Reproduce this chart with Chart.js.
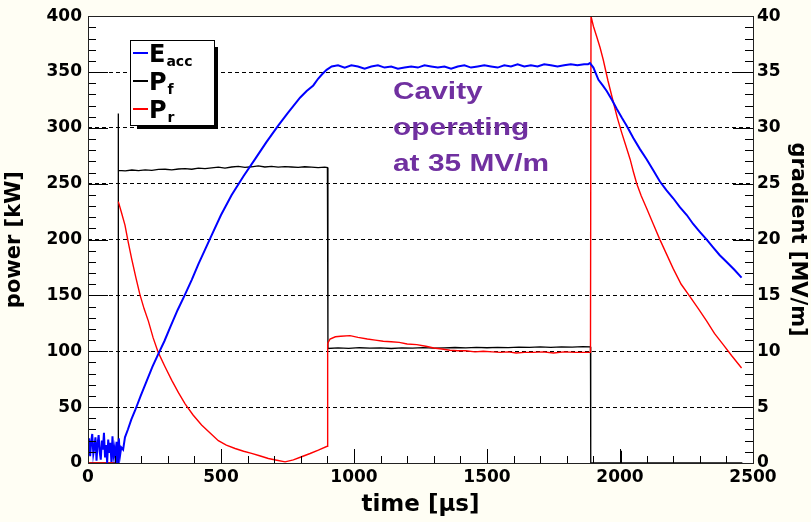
<!DOCTYPE html>
<html>
<head>
<meta charset="utf-8">
<script src="https://cdn.jsdelivr.net/npm/chart.js@4"></script>
<style>
  html, body { margin: 0; padding: 0; background: #fffef4; }
  canvas { display: block; }
</style>
</head>
<body>
<canvas id="chart" width="811" height="522"></canvas>
<script>
// E_acc gradient [MV/m] vs time [us]
const eaccTime = [0,4,8,12,16,20,24,28,32,36,40,44,48,52,56,60,64,68,72,76,80,84,88,92,96,100,104,108,112,116,120,
  125,132,139,150,163,177,198,220,242,264,287,310,337,365,390,415,440,465,500,540,585,628,670,715,750,797,822,847,865,880,897,916,
  940,965,990,1015,1040,1065,1090,1115,1140,1165,1190,1215,1240,1265,1290,1315,1340,1365,1390,1415,1440,1465,1490,1515,1540,1565,1590,1615,1640,1665,1690,1715,1740,1765,1790,1815,1840,1865,1880,1887,
  1900,1919,1935,1950,1970,1988,2007,2025,2050,2075,2100,2125,2150,2175,2200,2225,2251,2275,2300,2326,2350,2375,2401,2430,2457];
const eaccGrad = [1.5,2.2,0.6,1.9,2.6,0.8,1.4,2.3,0.2,1.7,2.5,1.0,0.3,2.0,1.2,2.7,0.5,1.6,0.0,2.1,0.9,1.8,0.1,2.4,0.7,1.3,0.0,1.9,0.0,2.2,0.6,
  1.4,1.2,2.3,3.0,3.9,4.7,6.0,7.3,8.6,9.75,10.9,12.2,13.7,15.1,16.4,17.8,19.1,20.4,22.2,24.0,25.7,27.2,28.7,30.2,31.3,32.7,33.3,33.8,34.4,34.8,35.2,35.5,
  35.6,35.4,35.6,35.5,35.3,35.5,35.6,35.4,35.5,35.3,35.4,35.5,35.4,35.6,35.5,35.4,35.5,35.3,35.5,35.6,35.4,35.5,35.6,35.5,35.4,35.6,35.5,35.7,35.5,35.6,35.5,35.7,35.6,35.5,35.6,35.7,35.6,35.7,35.7,35.8,
  35.4,34.3,33.8,33.3,32.5,31.7,30.9,30.2,29.1,28.1,27.2,26.2,25.2,24.4,23.7,22.9,22.2,21.4,20.7,20.0,19.3,18.6,18.0,17.3,16.6];

// forward power P_f [kW]
const pfTime = [0,113,113,
  115,140,165,190,215,240,265,290,315,340,365,390,415,440,465,490,515,540,565,590,615,640,665,690,715,740,765,790,815,840,865,890,900,
  902,940,980,1020,1060,1100,1140,1180,1220,1260,1300,1340,1380,1420,1460,1500,1540,1580,1620,1660,1700,1740,1780,1820,1860,1889,
  1890,1950,2003,2004,2005,2100,2200,2300,2400,2460];
const pfPower = [0,0,313,
  262.0,261.5,262.3,261.8,262.5,262.0,262.8,263.0,262.4,263.2,263.5,263.0,264.0,263.6,264.2,264.8,264.0,265.0,265.5,264.6,265.2,266.0,265.0,265.6,264.8,265.3,265.0,264.6,265.2,264.8,264.5,264.9,264.5,
  102.5,103.0,102.6,103.2,102.8,103.0,102.5,103.1,102.9,103.3,102.8,103.0,103.4,103.1,103.5,103.2,103.6,103.3,103.8,103.5,103.9,103.6,104.0,103.7,104.1,103.9,
  0,0,0,11,0,0,0,0,0,0];

// reflected power P_r [kW] (null = no trace while the pulse switches on)
const prTime = [0,20,40,60,80,100,112,113,114,126,139,151,164,180,195,211,227,245,264,290,315,340,365,395,427,458,490,520,553,585,615,645,678,710,741,772,803,835,866,899,
  901,910,930,950,985,1015,1050,1080,1110,1140,1170,1200,1236,1270,1300,1330,1361,1390,1420,1455,1486,1520,1550,1580,1610,1640,1674,1710,1750,1790,1830,1875,1889,
  1891,1900,1912,1925,1937,1955,1975,1990,2006,2022,2038,2050,2063,2080,2100,2125,2150,2175,2200,2230,2263,2295,2326,2355,2388,2420,2457];
const prPower = [0,0,0,0,0,0,0,null,234,224,213,198,183,166,151,138,127,112,99,86,74,63,53,43,34,27,20,16,13,10.5,8.6,6.5,4,2.5,1,2.8,5.6,8.5,11.5,15,
  107,111,113,113.5,114,112.5,111,110,109,108.5,108,106.5,106,104.5,103,102,101,100.5,100.5,99.5,100,99.5,99,99.5,98.5,99,99,99.5,98.5,99.5,99,99,99,
  400,391,382,372,361,342,323,309,296,284,272,261,250,239,228,214,200,187,174,160,149,138,127,116,106,96,85];

const legendMain = ['E', 'P', 'P'];
const legendSub = ['acc', 'f', 'r'];
const noteLines = ['Cavity', 'operating', 'at 35 MV/m'];

const toPoints = (xs, ys) => xs.map((x, i) => ({ x, y: ys[i] }));

const FONT = 'DejaVu Sans';
const tickFont = { family: FONT, size: 17, weight: 'bold' };
const titleFont = { family: FONT, size: 21, weight: 'bold', lineHeight: 1.2 };

// cream page, white frame
const background = {
  id: 'background',
  beforeDraw(chart) {
    const { ctx, chartArea: a } = chart;
    ctx.save();
    ctx.fillStyle = '#fffef4';
    ctx.fillRect(0, 0, chart.width, chart.height);
    ctx.fillStyle = '#ffffff';
    ctx.fillRect(a.left, a.top, a.right - a.left, a.bottom - a.top);
    ctx.restore();
  }
};

// ROOT-like frame, inward ticks, legend box and note
const decorations = {
  id: 'decorations',
  afterDraw(chart) {
    const { ctx, chartArea: a } = chart;
    const sx = chart.scales.x, sy = chart.scales.y, sy2 = chart.scales.y2;
    ctx.save();
    ctx.strokeStyle = '#000';
    ctx.lineWidth = 1;
    const line = (x1, y1, x2, y2) => { ctx.beginPath(); ctx.moveTo(x1, y1); ctx.lineTo(x2, y2); ctx.stroke(); };

    for (let v = 0; v <= 2500; v += 100) {
      const px = Math.round(sx.getPixelForValue(v)) + 0.5;
      line(px, a.bottom, px, a.bottom - (v % 500 === 0 ? 14 : 7));
    }
    for (let v = 0; v <= 400; v += 10) {
      const py = Math.round(sy.getPixelForValue(v)) + 0.5;
      line(a.left, py, a.left + (v % 50 === 0 ? 20 : 8), py);
    }
    for (let v = 0; v <= 40; v += 1) {
      const py = Math.round(sy2.getPixelForValue(v)) + 0.5;
      line(a.right, py, a.right - (v % 5 === 0 ? 20 : 8), py);
    }
    ctx.strokeStyle = '#222';
    ctx.strokeRect(Math.round(a.left) + 0.5, Math.round(a.top) + 0.5, Math.round(a.right - a.left), Math.round(a.bottom - a.top));

    // legend with drop shadow
    const bx = 130, by = 40, bw = 84, bh = 85;
    ctx.fillStyle = '#000';
    ctx.fillRect(bx + 7, by + 7, bw - 3, bh - 3);
    ctx.fillStyle = '#fff';
    ctx.fillRect(bx, by, bw, bh);
    ctx.strokeStyle = '#000';
    ctx.strokeRect(bx + 0.5, by + 0.5, bw, bh);
    const order = [0, 2, 1];
    order.forEach((di, i) => {
      const ds = chart.data.datasets[di];
      const base = 62 + i * 28;
      ctx.strokeStyle = ds.borderColor;
      ctx.lineWidth = 2;
      line(133, base - 9, 148, base - 9);
      ctx.fillStyle = '#000';
      ctx.textBaseline = 'alphabetic';
      ctx.textAlign = 'left';
      ctx.font = 'bold 24px ' + FONT;
      ctx.fillText(legendMain[i], 149, base);
      const w = ctx.measureText(legendMain[i]).width;
      ctx.font = 'bold 14px ' + FONT;
      ctx.fillText(legendSub[i], 149 + w + 1, base + 4);
    });

    // annotation, slightly widened like the original
    ctx.fillStyle = '#7030a0';
    ctx.font = 'bold 24.5px "Liberation Sans"';
    noteLines.forEach((t, i) => {
      ctx.save();
      ctx.translate(393, 99 + i * 36);
      ctx.scale(1.22, 1);
      ctx.fillText(t, 0, 0);
      ctx.restore();
    });
    ctx.restore();
  }
};

new Chart(document.getElementById('chart'), {
  type: 'line',
  data: {
    datasets: [
      { label: 'E_acc', data: toPoints(eaccTime, eaccGrad), yAxisID: 'y2', borderColor: '#0000ff', borderWidth: 2 },
      { label: 'P_r', data: toPoints(prTime, prPower), yAxisID: 'y', borderColor: '#ff0000', borderWidth: 1.4, spanGaps: false },
      { label: 'P_f', data: toPoints(pfTime, pfPower), yAxisID: 'y', borderColor: '#000000', borderWidth: 1.3 }
    ]
  },
  options: {
    responsive: false,
    animation: false,
    layout: { padding: { top: 13, left: 0, right: 0, bottom: 0 } },
    elements: { point: { radius: 0 }, line: { tension: 0 } },
    plugins: { legend: { display: false }, tooltip: { enabled: false } },
    scales: {
      x: {
        type: 'linear', min: 0, max: 2500,
        ticks: { stepSize: 500, padding: 4, color: '#000', font: tickFont, maxRotation: 0, autoSkip: false, callback: v => String(v) },
        grid: { display: false, drawTicks: false },
        border: { display: false },
        title: { display: true, text: 'time [µs]', color: '#000', font: { ...titleFont, size: 23 }, padding: { top: 0, bottom: 3 } },
        afterFit(s) { s.height = 59; }
      },
      y: {
        position: 'left', min: 0, max: 400,
        ticks: { stepSize: 50, padding: 6, color: '#000', font: tickFont },
        grid: { color: '#000', lineWidth: 1, drawTicks: false },
        border: { display: false, dash: [4, 3] },
        title: { display: true, text: 'power [kW]', color: '#000', font: titleFont, padding: { top: 2, bottom: 0 } },
        afterFit(s) { s.width = 88; }
      },
      y2: {
        position: 'right', min: 0, max: 40,
        ticks: { stepSize: 5, padding: 4, color: '#000', font: tickFont },
        grid: { display: false, drawTicks: false },
        border: { display: false },
        title: { display: true, text: 'gradient [MV/m]', color: '#000', font: titleFont, padding: { top: 1, bottom: 0 } },
        afterFit(s) { s.width = 58; }
      }
    }
  },
  plugins: [background, decorations]
});
</script>
</body>
</html>
